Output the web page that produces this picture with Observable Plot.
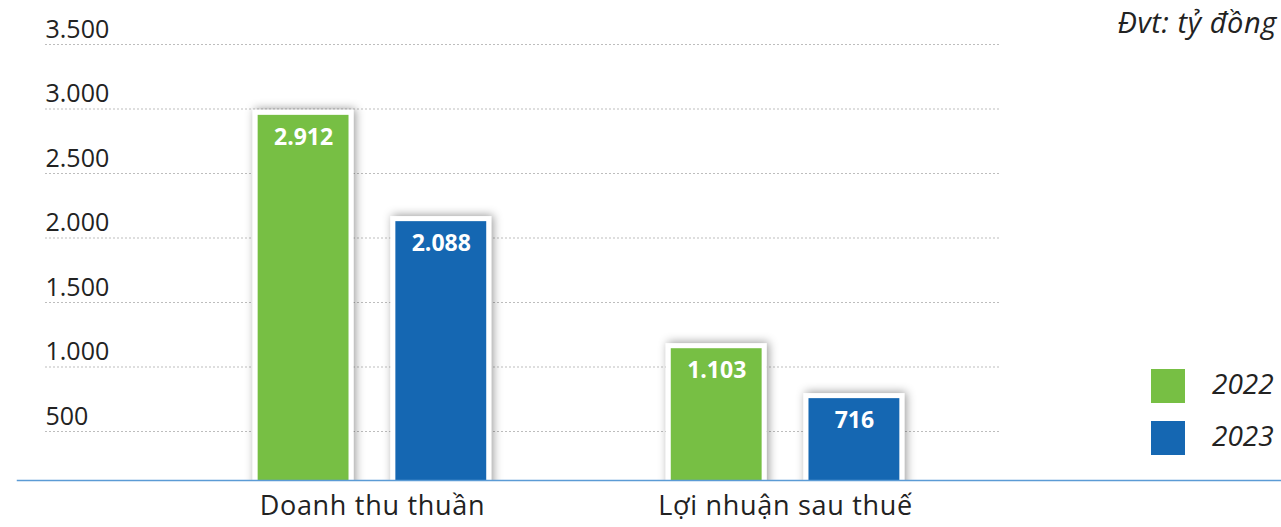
<!DOCTYPE html>
<html><head><meta charset="utf-8">
<script src="https://cdn.jsdelivr.net/npm/d3@7"></script>
<script src="https://cdn.jsdelivr.net/npm/@observablehq/plot@0.6"></script>
<style>
html,body{margin:0;padding:0;background:#fff;}
#wrap{position:relative;width:1281px;height:527px;font-family:"Open Sans",sans-serif;overflow:hidden;}
#unit{position:absolute;right:4px;top:7px;font-style:italic;font-size:29px;letter-spacing:0.6px;line-height:1;color:#222;white-space:nowrap;}
#legend{position:absolute;left:1151px;top:369px;}
.lg-swatch{margin:0 0 18px 0 !important;padding:0 !important;height:34px !important;display:flex !important;align-items:center !important;overflow:visible !important;}
.lg-swatch svg{margin-right:27px !important;}
.lg-swatch > :not(svg){overflow:visible !important;text-overflow:clip !important;line-height:1.2 !important;padding-right:4px;margin-top:-5px;}
</style></head><body><div id="wrap"><div id="chart"></div><div id="unit"></div><div id="legend"></div></div>
<script>
const categories = ["Doanh thu thuần", "Lợi nhuận sau thuế"];
const years = ["2022", "2023"];
const values2022 = [2912, 1103];
const values2023 = [2088, 716];
const yTicks = [500, 1000, 1500, 2000, 2500, 3000, 3500];
const yTickLabels = ["500", "1.000", "1.500", "2.000", "2.500", "3.000", "3.500"];
const colors = ["#77bf44", "#1567b2"];
const unitLabel = "Đvt: tỷ đồng";

const fmt = v => d3.format(",")(v).replace(/,/g, ".");
const key = (c, y) => c + " · " + y;
const rows = [];
categories.forEach((c, i) => {
  rows.push({cat: c, year: years[0], key: key(c, years[0]), value: values2022[i]});
  rows.push({cat: c, year: years[1], key: key(c, years[1]), value: values2023[i]});
});
// x slots: bar 2022, category centre, bar 2023, then spacer slots between groups
const xDomain = [];
categories.forEach((c, i) => {
  if (i > 0) xDomain.push("gap a" + i, "gap b" + i, "gap c" + i);
  xDomain.push(key(c, years[0]), c, key(c, years[1]));
});
const tickRows = yTicks.map((v, i) => ({v, label: yTickLabels[i]}));

const chart = Plot.plot({
  width: 1281, height: 527,
  marginLeft: 45, marginRight: 281, marginTop: 5, marginBottom: 47,
  style: {fontFamily: "'Open Sans', sans-serif", background: "white", overflow: "visible"},
  x: {domain: xDomain, paddingInner: 0, paddingOuter: 2.435, align: 0.667, round: false, axis: null},
  y: {domain: [0, 3500], range: [495.5, 44], axis: null},
  color: {domain: years, range: colors},
  marks: [
    Plot.gridY(yTicks, {stroke: "#bdbdbd", strokeOpacity: 1, strokeDasharray: "2,2"}),
    Plot.text(tickRows, {y: "v", text: "label", frameAnchor: "left", textAnchor: "start", dy: -15, fontSize: 25, fill: "#222"}),
    Plot.barY(rows, {x: "key", y: "value", fill: "white", insetLeft: -16, insetRight: -16, insetTop: -5, dy: -5, clip: true}),
    Plot.barY(rows, {x: "key", y: "value", fill: "year", insetLeft: -11, insetRight: -11, dy: -5, clip: true}),
    Plot.text(rows, {x: "key", y: "value", text: d => fmt(d.value), dy: 17, fill: "white", fontWeight: "bold", fontSize: 23}),
    Plot.text(categories, {x: d => d, text: d => d, frameAnchor: "bottom", dy: 34, fontSize: 27, fill: "#222"}),
    Plot.frame({anchor: "bottom", stroke: "#5b9bd5", strokeWidth: 1.5, insetLeft: -28, insetRight: -281})
  ]
});

// soft shadow behind the white-framed bars (first bar layer)
const svg = d3.select(chart);
const defs = svg.insert("defs", ":first-child");
const f = defs.append("filter").attr("id", "barShadow")
  .attr("filterUnits", "userSpaceOnUse").attr("x", 0).attr("y", 0).attr("width", 1281).attr("height", 527);
f.append("feDropShadow").attr("dx", 2).attr("dy", -1).attr("stdDeviation", 5).attr("flood-color", "#000").attr("flood-opacity", 0.4);
const barLayers = chart.querySelectorAll('g[aria-label="bar"]');
if (barLayers.length) barLayers[0].setAttribute("filter", "url(#barShadow)");
chart.querySelectorAll('g[aria-label="text"]').forEach(g => {
  if (g.getAttribute("font-size") === "27") g.setAttribute("letter-spacing", "0.7px");
});
document.getElementById("chart").appendChild(chart);

document.getElementById("unit").textContent = unitLabel;

const legend = Plot.legend({
  color: {domain: years, range: colors},
  legend: "swatches", columns: 1, swatchSize: 34, className: "lg",
  style: {fontSize: "28px", fontStyle: "italic", fontFamily: "'Open Sans', sans-serif", color: "#222"}
});
document.getElementById("legend").appendChild(legend);
</script>
</body></html>
